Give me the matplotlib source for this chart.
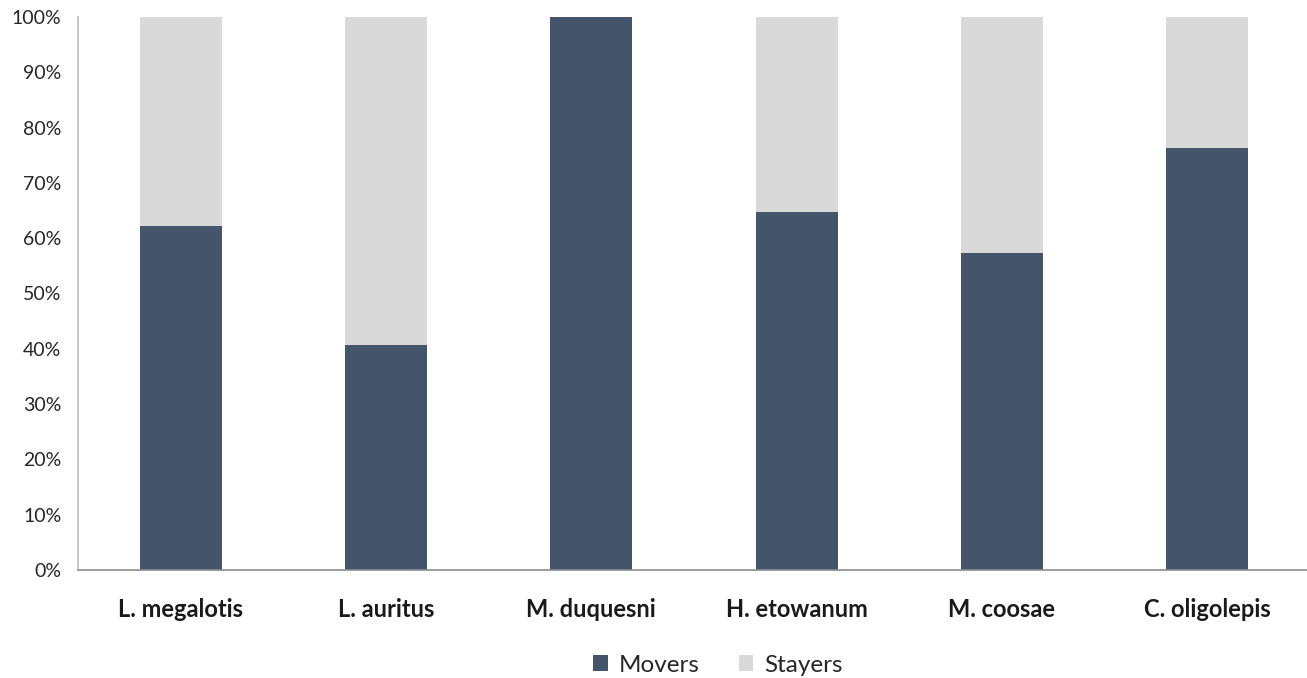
import matplotlib.pyplot as plt
from matplotlib.ticker import PercentFormatter

species = ['L. megalotis', 'L. auritus', 'M. duquesni', 'H. etowanum', 'M. coosae', 'C. oligolepis']
movers = [62.2, 40.7, 100.0, 64.7, 57.3, 76.3]
stayers = [100 - m for m in movers]

dark = '#44546A'
light = '#D9D9D9'

plt.rcParams['font.family'] = ['Lato', 'DejaVu Sans']

fig = plt.figure(figsize=(13.07, 6.78), dpi=100)
ax = fig.add_axes([78 / 1307, 108 / 678, 1232 / 1307, 553 / 678])

x = range(len(species))
ax.bar(x, movers, width=0.4, color=dark, label='Movers', zorder=2)
ax.bar(x, stayers, width=0.4, bottom=movers, color=light, label='Stayers', zorder=2)

ax.set_xlim(-0.5, len(species) - 0.5)
ax.set_ylim(0, 100)
ax.set_yticks(range(0, 101, 10))
ax.yaxis.set_major_formatter(PercentFormatter(decimals=0))
ax.set_xticks(list(x))
ax.set_xticklabels(species, fontsize=17, fontweight='bold', color='#1a1a1a')
ax.tick_params(axis='y', length=0, pad=12, labelsize=14, labelcolor='#262626')
ax.tick_params(axis='x', length=0, pad=20)

for side in ['top', 'right']:
    ax.spines[side].set_visible(False)
ax.spines['left'].set_color('#BFBFBF')
ax.spines['bottom'].set_color('#8C8C8C')
ax.spines['left'].set_linewidth(1.2)
ax.spines['bottom'].set_linewidth(1.2)

fig.legend(loc='center', bbox_to_anchor=(718 / 1307, 13 / 678), ncol=2, frameon=False,
           fontsize=17.5, handlelength=0.6, handleheight=0.6, columnspacing=1.6,
           handletextpad=0.45, labelcolor='#262626')

fig.savefig('out.png', dpi=100)
